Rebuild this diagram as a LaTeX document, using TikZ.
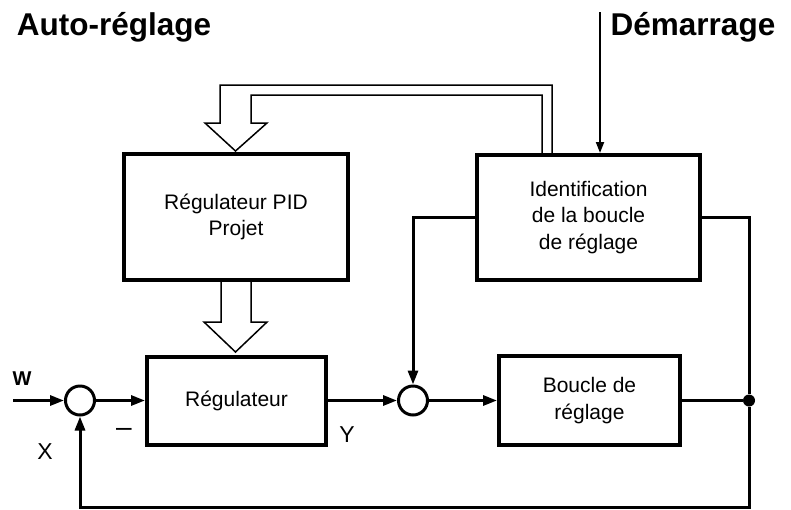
\documentclass[tikz,border=0pt]{standalone}
\usepackage{fontspec}
\setmainfont{Liberation Sans}
\usepackage{tikz}
\usetikzlibrary{arrows.meta, positioning, calc}

\begin{document}
\begin{tikzpicture}[x=1pt, y=-1pt]
  \tikzstyle{block}=[rectangle, draw, line width=4pt, fill=white, inner sep=0pt,
    align=center, font=\fontsize{21}{26.5}\selectfont]
  \tikzstyle{sumnode}=[circle, draw, line width=3pt, minimum size=29pt, inner sep=0pt]
  \tikzstyle{arr}=[-{Triangle[length=14pt, width=10pt]}, line width=3pt]
  \tikzstyle{wire}=[line width=3pt]
  \tikzstyle{hollow}=[line width=1.5pt, fill=white, line join=miter]
  \tikzstyle{title}=[font=\fontsize{31.5}{36}\selectfont\bfseries]
  \tikzstyle{sig}=[font=\fontsize{23}{26}\selectfont]
  \useasboundingbox (0,0) rectangle (791,509);
  % feedback of the identified parameters to the PID project
  \draw[hollow] (552,155) -- (552,85) -- (220,85) -- (220,123) -- (205,123)
    -- (235.5,151) -- (267,123) -- (251,123) -- (251,95) -- (542,95) -- (542,155);
  \draw[hollow] (221,280) -- (221,322) -- (204,322) -- (235.5,352)
    -- (267,322) -- (251,322) -- (251,280);
  % blocks
  \node[block, minimum width=224pt, minimum height=126pt] (pid) at (236,217)
    {Régulateur PID\\Projet};
  \node[block, minimum width=223pt, minimum height=125pt] (ident) at (588.5,217.5)
    {Identification\\de la boucle\\de réglage};
  \node[block, minimum width=179pt, minimum height=88pt] (reg) at (236.5,400.5)
    {Régulateur};
  \node[block, minimum width=181pt, minimum height=89pt] (loop) at (589.5,400.5)
    {Boucle de\\réglage};
  \node[sumnode] (s1) at (80,400.5) {};
  \node[sumnode] (s2) at (413,400.5) {};
  \node[circle, fill, inner sep=0pt, minimum size=12pt] (dot) at (749,400.5) {};
  \coordinate (win) at (13,400.5);
  \coordinate (fb) at (749,507);
  \coordinate (start) at (600,12);
  % labels
  \node[title] (auto) at (114,27) {Auto-réglage};
  \node[title] (dem) at (693,27) {Démarrage};
  \node[font=\fontsize{20}{24}\selectfont\bfseries] (w) at (22,379) {W};
  \node[sig] (x) at (45,452) {X};
  \node[sig] (y) at (347,435) {Y};
  \node[font=\fontsize{28}{30}\selectfont] (minus) at (124,432) {–};
  % connectors
  \draw[arr] (win) -- (s1.west);
  \draw[arr] (s1.east) -- (reg.west);
  \draw[arr] (reg.east) -- (s2.west);
  \draw[arr] (s2.east) -- (loop.west);
  \draw[wire] (loop.east) -- (dot);
  \draw[wire] (ident.east) -| (dot);
  \draw[arr] (ident.west) -| (s2.north);
  \draw[arr] (dot) -- (fb) -| (s1.south);
  \draw[-{Triangle[length=11pt, width=8pt]}, line width=2pt] (start) -- (start |- ident.north);
\end{tikzpicture}
\end{document}
